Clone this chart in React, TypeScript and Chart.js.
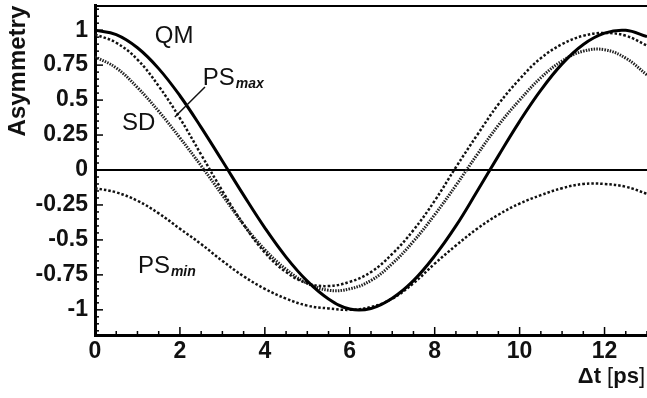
import React, { useEffect, useRef } from "react";
import { Chart, registerables } from "chart.js";

Chart.register(...registerables);

// Δt [ps]
const T = [0, 0.5, 1, 1.5, 2, 2.5, 3, 3.5, 4, 4.5, 5, 5.5, 6, 6.5, 7, 7.5, 8, 8.5, 9, 9.5, 10, 10.5, 11, 11.5, 12, 12.5, 13];
// Asymmetry curves
const QM = [1.0, 0.968, 0.874, 0.725, 0.531, 0.305, 0.064, -0.18, -0.414, -0.623, -0.795, -0.922, -0.994, -0.99, -0.917, -0.791, -0.614, -0.4, -0.152, 0.101, 0.348, 0.571, 0.759, 0.898, 0.979, 0.999, 0.954];
const PS_MAX = [0.97, 0.91, 0.79, 0.6, 0.37, 0.11, -0.15, -0.39, -0.59, -0.73, -0.81, -0.83, -0.8, -0.73, -0.6, -0.43, -0.22, 0.02, 0.25, 0.47, 0.65, 0.8, 0.9, 0.96, 0.98, 0.96, 0.89];
const SD = [0.81, 0.73, 0.59, 0.42, 0.23, 0.03, -0.18, -0.39, -0.57, -0.71, -0.81, -0.86, -0.85, -0.79, -0.67, -0.51, -0.32, -0.11, 0.11, 0.32, 0.5, 0.66, 0.78, 0.85, 0.86, 0.8, 0.68];
const PS_MIN = [-0.13, -0.16, -0.22, -0.31, -0.42, -0.53, -0.65, -0.76, -0.85, -0.92, -0.97, -0.99, -1.0, -0.98, -0.92, -0.81, -0.67, -0.54, -0.42, -0.32, -0.24, -0.18, -0.13, -0.1, -0.1, -0.12, -0.17];

const X_TICKS = [0, 2, 4, 6, 8, 10, 12];
const X_TICK_LABELS = ["0", "2", "4", "6", "8", "10", "12"];
const Y_TICKS = [1, 0.75, 0.5, 0.25, 0, -0.25, -0.5, -0.75, -1];
const Y_TICK_LABELS = ["1", "0.75", "0.5", "0.25", "0", "-0.25", "-0.5", "-0.75", "-1"];
const X_MIN = 0;
const X_MAX = 13;
const Y_MIN = -1.18;
const Y_MAX = 1.18;

const Y_TITLE = "Asymmetry";
const FONT = "'Liberation Sans', Arial, Helvetica, sans-serif";

// curve annotations (data coordinates)
const NOTES = [
  { main: "QM", sub: "", t: 1.41, v: 0.907 },
  { main: "SD", sub: "", t: 0.635, v: 0.286 },
  { main: "PS", sub: "max", t: 2.54, v: 0.607 },
  { main: "PS", sub: "min", t: 1.01, v: -0.736 },
];
const LEADER = { t1: 2.59, v1: 0.593, t2: 1.88, v2: 0.379 };

const toXY = (ys: number[]) => T.map((t, i) => ({ x: t, y: ys[i] }));

const decor = {
  id: "decor",
  beforeDatasetsDraw(chart: any) {
    const { ctx, chartArea, scales } = chart;
    const { left, right, top, bottom } = chartArea;
    const x = scales.x;
    const y = scales.y;
    const seg = (a: number, b: number, c: number, d: number) => {
      ctx.beginPath();
      ctx.moveTo(a, b);
      ctx.lineTo(c, d);
      ctx.stroke();
    };
    ctx.save();
    ctx.strokeStyle = "#000";
    ctx.lineWidth = 2;
    const y0 = y.getPixelForValue(0);
    seg(left, y0, right, y0);
    seg(left, top + 1, right, top + 1);
    ctx.lineWidth = 1.5;
    for (let k = 0; k <= 26; k++) {
      const v = k * 0.5;
      const px = x.getPixelForValue(v);
      const major = k % 4 === 0;
      seg(px, bottom, px, bottom - (major ? 8 : 4));
    }
    for (let k = -23; k <= 23; k++) {
      const v = k * 0.05;
      const py = y.getPixelForValue(v);
      const major = k % 5 === 0;
      seg(left, py, left + (major ? 8 : 4), py);
    }
    ctx.restore();
  },
  afterDraw(chart: any) {
    const { ctx, chartArea, scales } = chart;
    const x = scales.x;
    const y = scales.y;
    ctx.save();
    ctx.fillStyle = "#111";
    ctx.textBaseline = "alphabetic";
    ctx.textAlign = "left";
    for (const n of NOTES) {
      const px = x.getPixelForValue(n.t);
      const py = y.getPixelForValue(n.v);
      ctx.font = `24px ${FONT}`;
      ctx.fillText(n.main, px, py);
      if (n.sub) {
        const w = ctx.measureText(n.main).width;
        ctx.font = `italic bold 14px ${FONT}`;
        ctx.fillText(n.sub, px + w + 1, py + 3);
      }
    }
    ctx.strokeStyle = "#111";
    ctx.lineWidth = 1.5;
    ctx.beginPath();
    ctx.moveTo(x.getPixelForValue(LEADER.t1), y.getPixelForValue(LEADER.v1));
    ctx.lineTo(x.getPixelForValue(LEADER.t2), y.getPixelForValue(LEADER.v2));
    ctx.stroke();

    // y title
    ctx.save();
    ctx.translate(25, y.getPixelForValue(0.24));
    ctx.rotate(-Math.PI / 2);
    ctx.font = `bold 24px ${FONT}`;
    ctx.textAlign = "left";
    ctx.fillText(Y_TITLE, 0, 0);
    ctx.restore();

    // x title: Δt [ps]
    const parts = [
      { s: "Δt ", f: `bold 22px ${FONT}` },
      { s: "[", f: `22px ${FONT}` },
      { s: "ps", f: `bold 22px ${FONT}` },
      { s: "]", f: `22px ${FONT}` },
    ];
    let total = 0;
    for (const p of parts) {
      ctx.font = p.f;
      total += ctx.measureText(p.s).width;
    }
    let cx = chartArea.right - 2 - total;
    const by = 383;
    for (const p of parts) {
      ctx.font = p.f;
      ctx.fillText(p.s, cx, by);
      cx += ctx.measureText(p.s).width;
    }
    ctx.restore();
  },
};

export default function App() {
  const ref = useRef<HTMLCanvasElement | null>(null);
  useEffect(() => {
    const canvas = ref.current;
    if (!canvas) return;
    const tickFont = { family: FONT, size: 23, weight: "bold" as const };
    const common = {
      borderColor: "#111",
      pointRadius: 0,
      tension: 0.4,
      fill: false,
    };
    const chart = new Chart(canvas, {
      type: "line",
      data: {
        datasets: [
          { ...common, label: "QM", data: toXY(QM), borderColor: "#000", borderWidth: 3 },
          { ...common, label: "PSmax", data: toXY(PS_MAX), borderWidth: 2.5, borderDash: [2.5, 2] },
          { ...common, label: "SD", data: toXY(SD), borderColor: "#222", borderWidth: 3, borderDash: [1.5, 1.2] },
          { ...common, label: "PSmin", data: toXY(PS_MIN), borderWidth: 2.5, borderDash: [2.5, 2] },
        ],
      },
      options: {
        animation: false,
        responsive: false,
        layout: { padding: { top: 5, left: 0, right: 0, bottom: 0 } },
        plugins: { legend: { display: false }, tooltip: { enabled: false } },
        elements: { point: { radius: 0 } },
        scales: {
          x: {
            type: "linear",
            min: X_MIN,
            max: X_MAX,
            afterFit: (s: any) => {
              s.height = 63;
              s.paddingLeft = 0;
              s.paddingRight = 0;
            },
            afterBuildTicks: (s: any) => {
              s.ticks = X_TICKS.map((value) => ({ value }));
            },
            grid: { display: false, drawTicks: false },
            border: { display: true, width: 3, color: "#000" },
            ticks: {
              padding: 3,
              font: tickFont,
              color: "#111",
              maxRotation: 0,
              autoSkip: false,
              callback: (_v: any, i: number) => X_TICK_LABELS[i],
            },
          },
          y: {
            type: "linear",
            min: Y_MIN,
            max: Y_MAX,
            afterFit: (s: any) => {
              s.width = 95;
              s.paddingTop = 0;
              s.paddingBottom = 0;
            },
            afterBuildTicks: (s: any) => {
              s.ticks = Y_TICKS.map((value) => ({ value }));
            },
            grid: { display: false, drawTicks: false },
            border: { display: true, width: 3, color: "#000" },
            ticks: {
              padding: 7,
              font: tickFont,
              color: "#111",
              autoSkip: false,
              callback: (_v: any, i: number) => Y_TICK_LABELS[i],
            },
          },
        },
      },
      plugins: [decor],
    });
    return () => chart.destroy();
  }, []);
  return (
    <div style={{ position: "fixed", left: 0, top: 0, width: 647, height: 398, background: "#fff" }}>
      <canvas ref={ref} width={647} height={398} style={{ display: "block" }} />
    </div>
  );
}
